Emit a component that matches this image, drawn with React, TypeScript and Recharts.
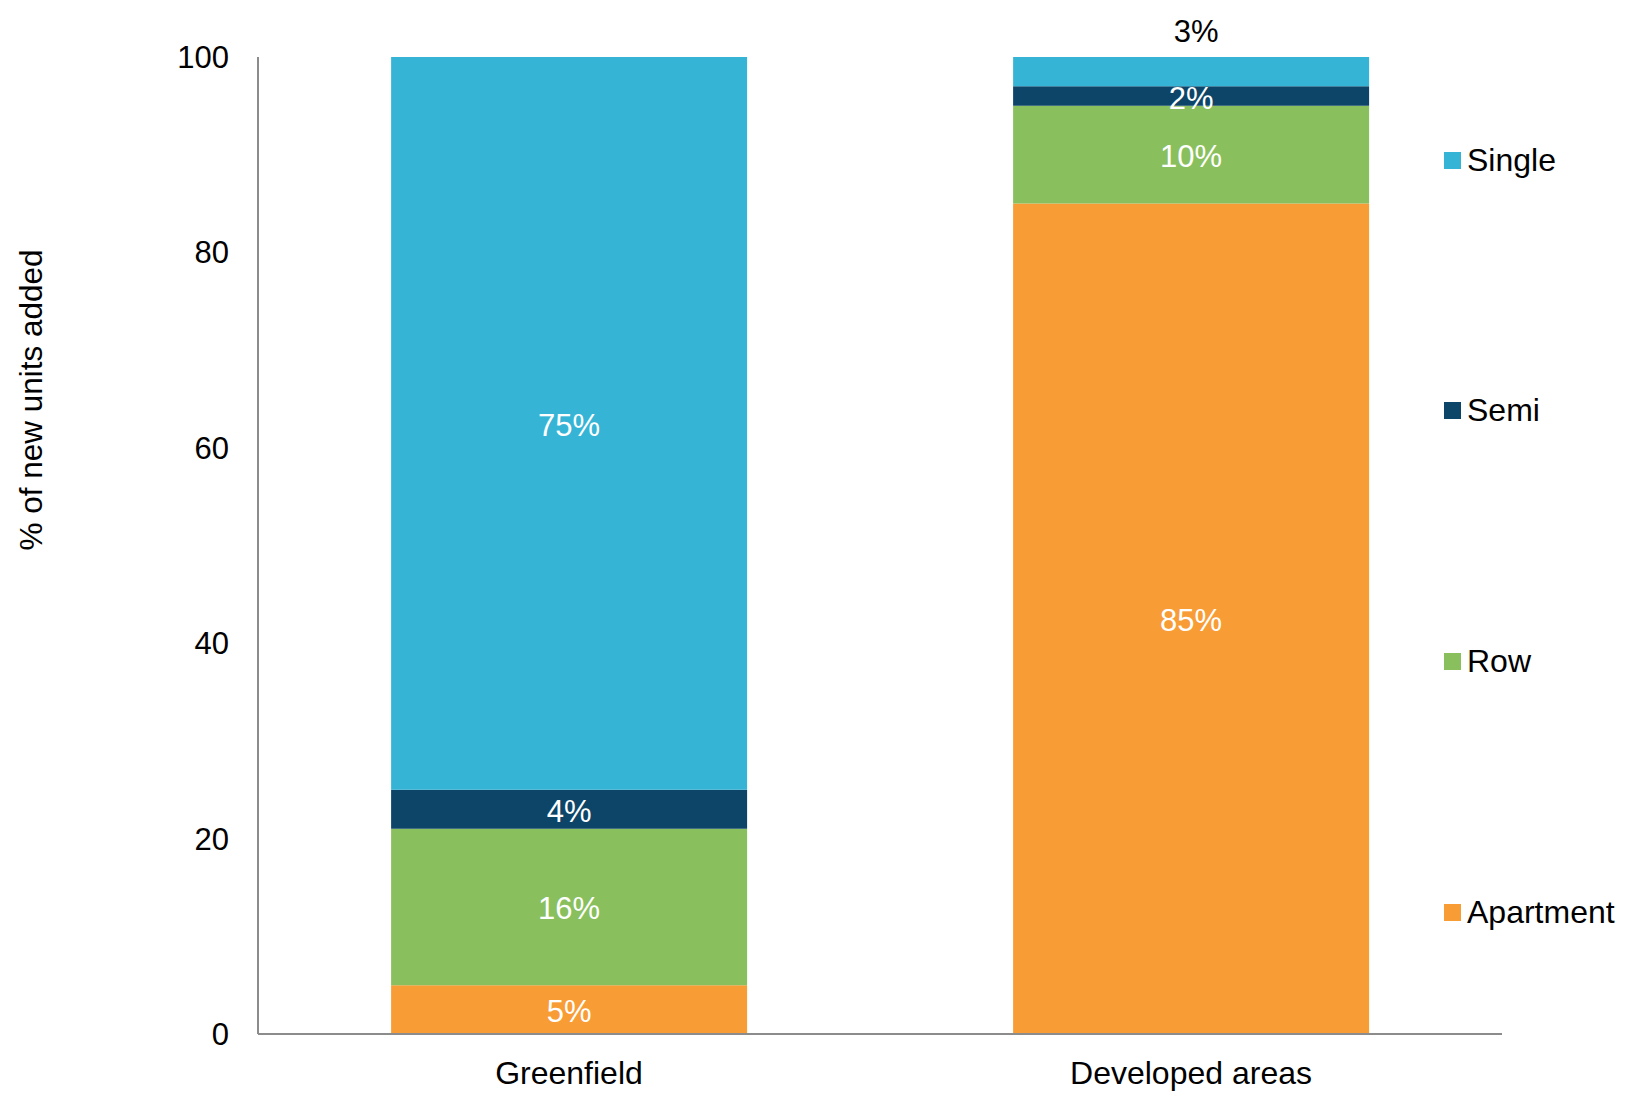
import React from "react";
import { BarChart, Bar, XAxis, YAxis, LabelList, Label } from "recharts";

const categories = ["Greenfield", "Developed areas"];
const apartment = [5, 85];
const row = [16, 10];
const semi = [4, 2];
const single = [75, 3];
const yTicks = [0, 20, 40, 60, 80, 100];

const seriesDefs = [
  { key: "Apartment", color: "#F89C36" },
  { key: "Row", color: "#89C05D" },
  { key: "Semi", color: "#0C4568" },
  { key: "Single", color: "#36B4D6" },
];

const data = categories.map((c, i) => ({
  name: c,
  Apartment: apartment[i],
  Row: row[i],
  Semi: semi[i],
  Single: single[i],
}));

const FONT = "'Liberation Sans', Arial, sans-serif";

const makeLabel = (outsideSmall: boolean) => (props: any) => {
  const { x, y, width, height, value } = props;
  const cx = x + width / 2;
  if (outsideSmall && value < 3.5) {
    return (
      <text x={cx + 5} y={y - 26} textAnchor="middle" dominantBaseline="central" fill="#000" fontSize={31} fontFamily={FONT}>
        {value}%
      </text>
    );
  }
  return (
    <text x={cx} y={y + height / 2 + 2} textAnchor="middle" dominantBaseline="central" fill="#fff" fontSize={31} fontFamily={FONT}>
      {value}%
    </text>
  );
};

const LegendBox = () => {
  const items = [...seriesDefs].reverse();
  return (
    <div style={{ position: "absolute", left: 1444, top: 0, width: 184, height: 1103 }}>
      {items.map((s, i) => (
        <div
          key={s.key}
          style={{
            position: "absolute",
            left: 0,
            top: 160 + i * 250.7 - 20,
            height: 40,
            display: "flex",
            alignItems: "center",
            fontFamily: FONT,
            fontSize: 32,
            color: "#000",
            whiteSpace: "nowrap",
          }}
        >
          <span style={{ display: "inline-block", width: 17, height: 17, background: s.color, marginRight: 6 }} />
          {s.key}
        </div>
      ))}
    </div>
  );
};

export default function App() {
  return (
    <div style={{ position: "absolute", left: 0, top: 0, width: 1628, height: 1103, background: "#fff" }}>
      <BarChart
        width={1628}
        height={1103}
        data={data}
        margin={{ top: 57, right: 126, bottom: 0, left: 0 }}
        barCategoryGap="21.4%"
      >
        <XAxis
          dataKey="name"
          height={69}
          tickLine={false}
          tickSize={0}
          tickMargin={27}
          axisLine={{ stroke: "#8C8C8C", strokeWidth: 2 }}
          tick={{ fill: "#000", fontSize: 32, fontFamily: FONT }}
        />
        <YAxis
          width={258}
          domain={[0, 100]}
          ticks={yTicks}
          interval={0}
          tickLine={false}
          tickSize={0}
          tickMargin={29}
          axisLine={{ stroke: "#8C8C8C", strokeWidth: 2 }}
          tick={{ fill: "#000", fontSize: 31, fontFamily: FONT }}
        >
          <Label
            content={() => (
              <text
                x={31}
                y={400}
                transform="rotate(-90 31 400)"
                textAnchor="middle"
                dominantBaseline="central"
                fill="#000"
                fontSize={31.5}
                fontFamily={FONT}
              >
                % of new units added
              </text>
            )}
          />
        </YAxis>
        {seriesDefs.map((s) => (
          <Bar key={s.key} dataKey={s.key} stackId="a" fill={s.color} isAnimationActive={false}>
            <LabelList dataKey={s.key} content={makeLabel(s.key === "Single")} />
          </Bar>
        ))}
      </BarChart>
      <LegendBox />
    </div>
  );
}
